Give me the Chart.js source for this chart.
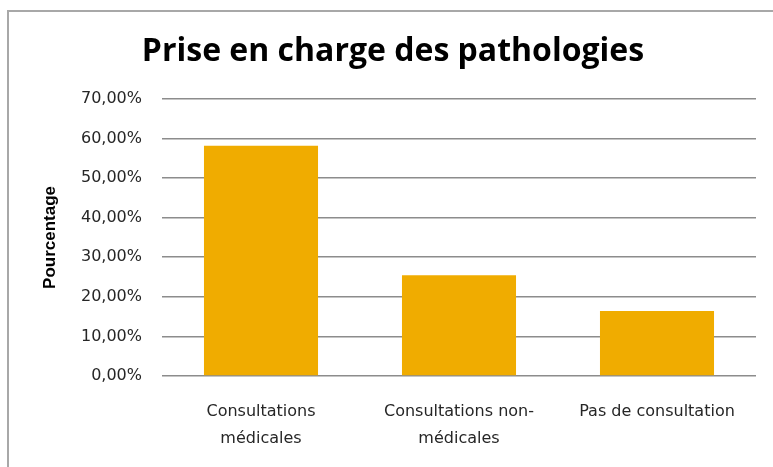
<!DOCTYPE html>
<html>
<head>
<meta charset="utf-8">
<script src="https://cdn.jsdelivr.net/npm/chart.js@4.4.1/dist/chart.umd.min.js"></script>
<style>
  html, body { margin: 0; padding: 0; background: #fff; overflow: hidden; }
  #wrap { position: relative; width: 773px; height: 467px; }
</style>
</head>
<body>
<div id="wrap"><canvas id="chart" width="773" height="467"></canvas></div>
<script>
// données
var categories = [["Consultations", "médicales"], ["Consultations non-", "médicales"], "Pas de consultation"];
var pourcentages = [58.14, 25.42, 16.44];
var yTicks = [0, 10, 20, 30, 40, 50, 60, 70];

// cadre gris (haut et gauche seulement visibles)
var frame = {
    id: "frame",
    beforeDraw: function(chart) {
        var ctx = chart.ctx;
        ctx.save();
        ctx.strokeStyle = "#a8a8a8";
        ctx.lineWidth = 2;
        ctx.beginPath();
        ctx.moveTo(8, 467);
        ctx.lineTo(8, 11);
        ctx.lineTo(773, 11);
        ctx.stroke();
        ctx.restore();
    }
};

var chart = new Chart(document.getElementById("chart"), {
    type: "bar",
    data: {
        labels: categories,
        datasets: [{
            data: pourcentages,
            backgroundColor: "#f0ac00",
            categoryPercentage: 1,
            barPercentage: 0.576
        }]
    },
    options: {
        responsive: false,
        animation: false,
        layout: { padding: { left: 30, right: 17, top: 0, bottom: 0 } },
        plugins: {
            legend: { display: false },
            tooltip: { enabled: false },
            title: {
                display: true,
                text: "Prise en charge des pathologies",
                color: "#000",
                font: { family: "Open Sans", size: 32, weight: "bold", lineHeight: 1.2 },
                padding: { top: 33, bottom: 27.5 }
            }
        },
        scales: {
            x: {
                grid: { display: false },
                border: { display: false },
                ticks: {
                    color: "#262626",
                    maxRotation: 0,
                    autoSkip: false,
                    padding: 15,
                    font: { family: "DejaVu Sans", size: 16, lineHeight: 1.65 }
                },
                afterFit: function(scale) { scale.height = 91; }
            },
            y: {
                min: 0,
                max: 70,
                afterBuildTicks: function(scale) {
                    scale.ticks = yTicks.map(function(v) { return { value: v }; });
                },
                grid: { color: "#8c8c8c", lineWidth: 1.5, drawTicks: false },
                border: { display: false },
                ticks: {
                    color: "#262626",
                    padding: 20,
                    font: { family: "DejaVu Sans", size: 16 },
                    callback: function(v) { return v.toFixed(2).replace(".", ",") + "%"; }
                },
                title: {
                    display: true,
                    text: "Pourcentage",
                    color: "#000",
                    font: { family: "Liberation Sans", size: 17, weight: "bold", lineHeight: 1.2 },
                    padding: { top: 10, bottom: 0 }
                },
                afterFit: function(scale) { scale.width = 132; }
            }
        }
    },
    plugins: [frame]
});
</script>
</body>
</html>
